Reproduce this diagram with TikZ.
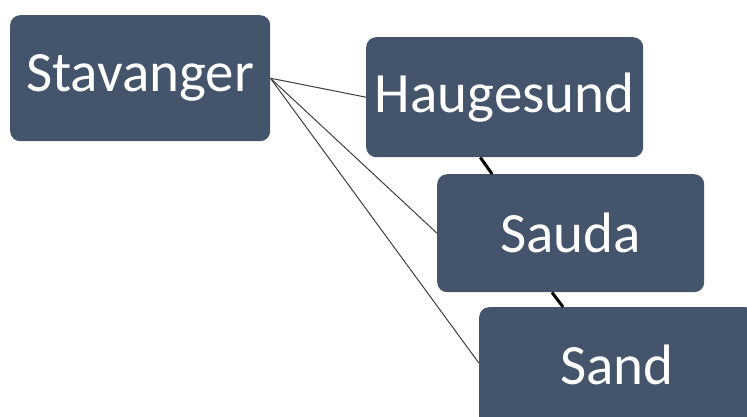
\documentclass[tikz,border=0pt]{standalone}
\usepackage{fontspec}
\setmainfont{Carlito}
\usetikzlibrary{calc}
\definecolor{boxfill}{RGB}{68,84,106}
\begin{document}
\begin{tikzpicture}[x=1pt,y=-1pt,
  citybox/.style={draw=none,fill=boxfill,rounded corners=10pt,text=white,
    font=\fontsize{57}{62}\selectfont,inner sep=0pt,anchor=north west},
  thinlink/.style={draw=black!75,line width=1pt},
  thicklink/.style={draw=black,line width=3pt}]
\useasboundingbox (0,0) rectangle (747,417);
\fill[white] (0,0) rectangle (747,417);
\node[citybox,minimum width=260pt,minimum height=126pt] (st) at (10,15) {Stavanger};
\node[citybox,minimum width=277pt,minimum height=120pt] (hg) at (366,37) {Haugesund};
\node[citybox,minimum width=267pt,minimum height=118pt] (sa) at (437,174) {Sauda};
\node[citybox,minimum width=276pt,minimum height=122pt] (sn) at (479,307) {\raisebox{6pt}{Sand}};
\draw[thinlink] (st.east) -- (hg.west);
\draw[thinlink] (st.east) -- (sa.west);
\draw[thinlink] (st.east) -- ($(sn.west)+(0,-5)$);
\draw[thicklink] ($(hg.south west)!0.412!(hg.south east)$) -- ($(sa.north west)!0.206!(sa.north east)$);
\draw[thicklink] ($(sa.south west)!0.43!(sa.south east)$) -- ($(sn.north west)!0.304!(sn.north east)$);
\end{tikzpicture}
\end{document}
